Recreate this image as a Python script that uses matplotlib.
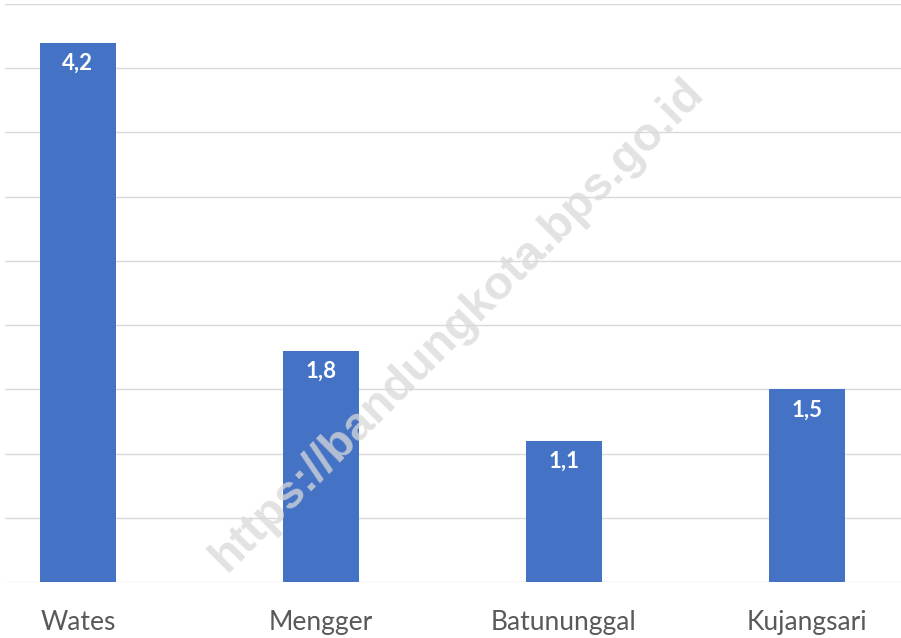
import matplotlib.pyplot as plt
import numpy as np

# data
categories = ['Wates', 'Mengger', 'Batununggal', 'Kujangsari']
values = [4.2, 1.8, 1.1, 1.5]
value_labels = ['4,2', '1,8', '1,1', '1,5']

W, H = 901, 638
fig = plt.figure(figsize=(W / 100, H / 100), dpi=100)
# axes placed in pixels: left gridline start 5px, baseline 582px, top grid 4px
ax = fig.add_axes([5 / W, (H - 582) / H, 1 - 5 / W, (582 - 4) / H])

x = np.arange(len(categories))
ax.bar(x, values, width=0.313, color='#4472C4', zorder=3)
ax.set_xlim(-0.300, 3.387)
ax.set_ylim(0, 4.5)

ax.set_yticks(np.arange(0, 4.51, 0.5))
ax.yaxis.grid(True, color='#d9d9d9', linewidth=1.0, zorder=0)
ax.set_yticklabels([])
ax.tick_params(axis='y', length=0)
for s in ax.spines.values():
    s.set_visible(False)

ax.set_xticks(x)
ax.set_xticklabels(categories, fontsize=19, color='#595959', family=['Lato', 'DejaVu Sans'])
ax.tick_params(axis='x', length=0, pad=20)

for xi, v, lab in zip(x, values, value_labels):
    ax.annotate(lab, (xi, v), xytext=(0, -15), textcoords='offset points',
                ha='center', va='center', color='white', fontsize=16,
                fontweight='bold', family=['Lato', 'DejaVu Sans'], zorder=4)

# watermark
fig.text(458 / W, 1 - 325 / H, 'https://bandungkota.bps.go.id', rotation=45,
         ha='center', va='center', fontsize=34, fontweight='bold',
         color='#d9d9d9', alpha=0.75, family=['Liberation Sans', 'DejaVu Sans'],
         zorder=10)

fig.savefig('out.png', dpi=100)
